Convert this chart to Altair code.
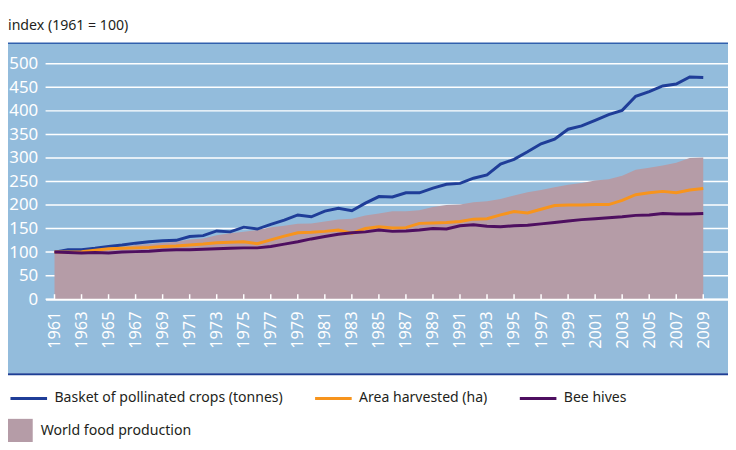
import altair as alt
import pandas as pd

years = list(range(1961, 2010))
basket = [100, 105, 105, 108, 112, 115, 119, 122, 124, 125, 133, 135, 145, 143, 153, 149, 159, 168, 179, 175,
          187, 193, 188, 204, 218, 217, 226, 226, 236, 244, 246, 257, 264, 287, 297, 313, 330, 340, 361, 368,
          380, 392, 401, 431, 441, 453, 457, 472, 471]
area_harvested = [100, 100, 101, 104, 107, 108, 109, 110, 112, 113, 115, 117, 120, 121, 122, 118, 126, 134, 141, 142,
                  144, 147, 140, 150, 154, 151, 152, 161, 162, 163, 165, 170, 171, 179, 186, 183, 191, 199, 200, 200,
                  201, 201, 210, 222, 226, 229, 226, 232, 235]
bee_hives = [100, 99, 98, 99, 98, 100, 101, 102, 104, 105, 105, 106, 107, 108, 109, 109, 112, 117, 122, 128,
             133, 138, 141, 143, 147, 144, 145, 147, 150, 149, 156, 158, 155, 154, 156, 157, 160, 163, 166, 169,
             171, 173, 175, 178, 179, 182, 181, 181, 182]
world_food = [100, 102, 104, 106, 109, 111, 115, 117, 120, 122, 127, 129, 136, 140, 143, 147, 153, 156, 160, 161,
              165, 169, 171, 178, 182, 187, 187, 189, 196, 200, 201, 206, 208, 213, 220, 227, 232, 238, 243, 247,
              252, 255, 262, 275, 279, 284, 290, 300, 301]

series_names = ["Basket of pollinated crops (tonnes)", "Area harvested (ha)", "Bee hives"]
series_colors = ["#1f3d98", "#f7941d", "#4e0f60"]
area_name = "World food production"
area_color = "#b59ca7"
y_ticks = [0, 50, 100, 150, 200, 250, 300, 350, 400, 450, 500]
x_ticks = list(range(1961, 2010, 2))
title_text = "index (1961 = 100)"

lines_df = pd.DataFrame({
    "year": years * 3,
    "value": basket + area_harvested + bee_hives,
    "series": [series_names[0]] * len(years) + [series_names[1]] * len(years) + [series_names[2]] * len(years),
})
area_df = pd.DataFrame({"year": years, "value": world_food, "name": [area_name] * len(years)})
grid_df = pd.DataFrame({"v": y_ticks})
tick_df = pd.DataFrame({"year": x_ticks})
one = pd.DataFrame({"a": [0]})

W, H = 690, 238
FONT = "Noto Sans"

xscale = alt.Scale(domain=[1960.34, 2010.83], nice=False, zero=False)
yscale = alt.Scale(domain=[0, 500], nice=False)
xaxis = alt.Axis(values=x_ticks, format="d", labelAngle=270, labelColor="white", labelFontSize=16.5,
                 labelFont=FONT, domainColor="white", domainWidth=2, ticks=False, grid=False,
                 labelPadding=12, title=None, zindex=1, labelOverlap=False)
yaxis = alt.Axis(values=y_ticks, labelColor="white", labelFontSize=17, labelFont=FONT, domain=False,
                 ticks=False, grid=False, labelPadding=8, title=None, zindex=1)

panel = alt.Chart(one).mark_rect(color="#93bcdc").encode(
    x=alt.value(-38), x2=alt.value(W), y=alt.value(-20), y2=alt.value(313))
bottom_line = alt.Chart(one).mark_rect(color="#1d3f95").encode(
    x=alt.value(-38), x2=alt.value(W), y=alt.value(313), y2=alt.value(315))
top_line = alt.Chart(one).mark_rect(color="#3160ad").encode(
    x=alt.value(-38), x2=alt.value(W), y=alt.value(-21.5), y2=alt.value(-20))
title = alt.Chart(pd.DataFrame({"t": [title_text]})).mark_text(
    align="left", baseline="middle", font=FONT, fontSize=14.3, color="#231f20").encode(
    x=alt.value(-38), y=alt.value(-38), text="t:N")

grid = alt.Chart(grid_df).mark_rule(color="white", strokeWidth=1.5).encode(
    y=alt.Y("v:Q", scale=yscale, axis=yaxis), x=alt.value(0), x2=alt.value(W))

area = alt.Chart(area_df).mark_area(opacity=1).encode(
    x=alt.X("year:Q", scale=xscale, axis=xaxis),
    y=alt.Y("value:Q", scale=yscale, axis=yaxis),
    fill=alt.Fill("name:N", scale=alt.Scale(domain=[area_name], range=[area_color]),
                  legend=alt.Legend(orient="none", legendX=-38, legendY=359, title=None,
                                    symbolType="square", symbolSize=625, symbolStrokeWidth=0,
                                    symbolOpacity=1, labelFont=FONT, labelFontSize=14.3,
                                    labelColor="#231f20", labelOffset=8, padding=0, labelLimit=0)),
)

ticks = alt.Chart(tick_df).mark_rule(color="white", strokeWidth=1.5).encode(
    x=alt.X("year:Q", scale=xscale, axis=xaxis), y=alt.value(H - 5), y2=alt.value(H))

lines = alt.Chart(lines_df).mark_line(strokeWidth=3).encode(
    x=alt.X("year:Q", scale=xscale, axis=xaxis),
    y=alt.Y("value:Q", scale=yscale, axis=yaxis),
    color=alt.Color("series:N", scale=alt.Scale(domain=series_names, range=series_colors),
                    legend=alt.Legend(orient="none", legendX=-37, legendY=318, title=None,
                                      direction="horizontal", symbolType="stroke", symbolSize=1369,
                                      symbolStrokeWidth=3, labelFont=FONT, labelFontSize=14.2,
                                      labelColor="#231f20", labelOffset=6, columnPadding=26,
                                      padding=0, labelLimit=0)),
)

chart = alt.layer(panel, bottom_line, top_line, title, grid, area, ticks, lines).properties(
    width=W, height=H, autosize=alt.AutoSizeParams(type="none"),
    padding={"left": 38, "top": 54, "right": 0, "bottom": 142},
).resolve_legend(color="independent", fill="independent").configure_view(stroke=None).configure(background="white")

chart.save("out.html", embed_options={"renderer": "svg", "actions": False})
